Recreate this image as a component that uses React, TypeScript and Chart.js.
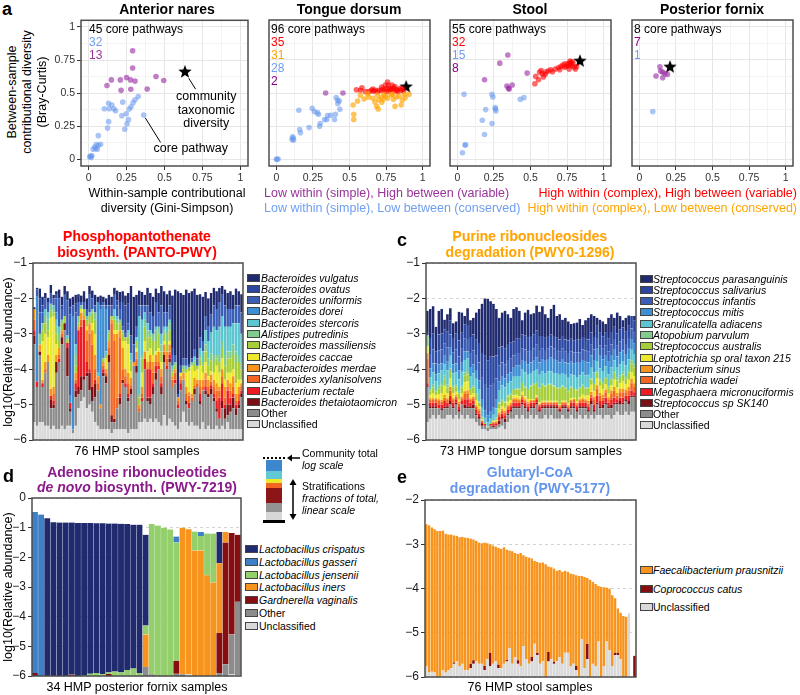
import React, { useEffect, useRef } from "react";
import { Chart, registerables } from "chart.js";
Chart.register(...registerables);

const FONT = "'Liberation Sans', Arial, Helvetica, sans-serif";

// ---------------- Panel a: scatter data [within (Gini-Simpson), between (Bray-Curtis)] ----------------
const scatterGrid = [0, 0.125, 0.25, 0.375, 0.5, 0.625, 0.75, 0.875, 1];
const scatterLabels: Record<string, string> = { "0": "0", "0.25": "0.25", "0.5": "0.5", "0.75": "0.75", "1": "1" };

const naresBlue = [[0.327,0.474],[0.306,0.45],[0.293,0.428],[0.28,0.397],[0.225,0.432],[0.132,0.423],[0.153,0.411],[0.166,0.382],[0.104,0.382],[0.136,0.382],[0.268,0.38],[0.248,0.345],[0.219,0.33],[0.363,0.335],[0.263,0.30],[0.132,0.285],[0.253,0.268],[0.238,0.228],[0.125,0.236],[0.064,0.179],[0.079,0.114],[0.051,0.112],[0.04,0.094],[0.03,0.077],[0.057,0.077],[0.013,0.025],[0.007,0.02],[0.021,0.027],[0.047,0.082],[0.064,0.104],[0.017,0.015],[0.178,0.367]];
const naresPurple = [[0.29,0.82],[0.29,0.69],[0.15,0.60],[0.209,0.60],[0.25,0.618],[0.276,0.60],[0.306,0.591],[0.444,0.626],[0.495,0.596],[0.121,0.558],[0.214,0.521],[0.278,0.529],[0.386,0.531]];
const naresStar = [0.635, 0.66];

const tongueBlue = [[0.005,0.0],[0.0,0.0],[0.012,0.003],[0.111,0.17],[0.118,0.145],[0.107,0.15],[0.16,0.225],[0.154,0.37],[0.224,0.24],[0.245,0.385],[0.281,0.352],[0.296,0.25],[0.288,0.34],[0.345,0.30],[0.372,0.332],[0.404,0.34],[0.398,0.30],[0.409,0.465],[0.42,0.445],[0.42,0.42],[0.434,0.378],[0.115,0.16],[0.30,0.27],[0.35,0.33],[0.26,0.36],[0.43,0.44],[0.165,0.20],[0.33,0.30]];
const tonguePurple = [[0.337,0.50],[0.455,0.50]];
const tongueOrange = [[0.525,0.41],[0.529,0.34],[0.529,0.30],[0.574,0.482],[0.623,0.495],[0.674,0.432],[0.685,0.40],[0.696,0.38],[0.719,0.47],[0.73,0.452],[0.748,0.475],[0.786,0.487],[0.80,0.452],[0.853,0.41],[0.791,0.49],[0.811,0.40],[0.84,0.475],[0.86,0.445],[0.876,0.49],[0.908,0.49],[0.70,0.45],[0.66,0.46],[0.72,0.43],[0.76,0.46],[0.63,0.47],[0.555,0.44],[0.69,0.485],[0.735,0.49],[0.82,0.47],[0.88,0.465],[0.60,0.455]];
const tongueRed = [[0.547,0.525],[0.585,0.54],[0.632,0.51],[0.649,0.52],[0.664,0.513],[0.692,0.508],[0.718,0.52],[0.76,0.583],[0.766,0.558],[0.753,0.533],[0.781,0.52],[0.802,0.533],[0.823,0.52],[0.77,0.533],[0.78,0.525],[0.80,0.54],[0.823,0.525],[0.843,0.533],[0.853,0.52],[0.70,0.52],[0.74,0.515],[0.61,0.51],[0.66,0.53],[0.72,0.545],[0.79,0.56],[0.81,0.548],[0.755,0.51],[0.83,0.51],[0.86,0.535],[0.87,0.515],[0.676,0.52],[0.73,0.53],[0.795,0.51],[0.745,0.56],[0.575,0.52]];
const tongueStar = [0.887, 0.546];

const stoolBlue = [[0.046,0.49],[0.237,0.49],[0.243,0.47],[0.194,0.375],[0.259,0.39],[0.263,0.365],[0.171,0.295],[0.237,0.27],[0.186,0.1875],[0.057,0.11],[0.052,0.108],[0.035,0.05],[0.43,0.452],[0.455,0.465],[0.26,0.38]];
const stoolPurple = [[0.345,0.786],[0.29,0.725],[0.186,0.60],[0.477,0.65],[0.339,0.553],[0.375,0.56],[0.354,0.53],[0.35,0.535]];
const stoolRed = [[0.53,0.57],[0.536,0.625],[0.562,0.658],[0.573,0.67],[0.588,0.62],[0.605,0.658],[0.637,0.675],[0.669,0.68],[0.707,0.70],[0.732,0.695],[0.754,0.72],[0.771,0.73],[0.78,0.705],[0.797,0.695],[0.807,0.68],[0.764,0.68],[0.60,0.64],[0.62,0.665],[0.65,0.66],[0.69,0.69],[0.72,0.71],[0.745,0.70],[0.775,0.72],[0.785,0.735],[0.79,0.72],[0.76,0.705],[0.555,0.60],[0.58,0.645],[0.70,0.675],[0.815,0.70],[0.735,0.72],[0.77,0.74]];
const stoolStar = [0.838, 0.74];

const fornixBlue = [[0.092,0.36]];
const fornixPurple = [[0.141,0.697],[0.146,0.665],[0.114,0.628],[0.16,0.658],[0.192,0.64],[0.16,0.615],[0.175,0.645]];
const fornixStar = [0.21, 0.695];

const C_BLUE = "rgba(100,149,237,0.55)";
const C_PURPLE = "rgba(150,40,160,0.6)";
const C_RED = "rgba(255,0,0,0.6)";
const C_ORANGE = "rgba(255,165,0,0.65)";

// ---------------- Panel b: PANTO-PWY, 76 HMP stool samples ----------------
const bTotal = [-2.25,-1.70,-1.72,-1.95,-1.85,-1.98,-1.62,-1.90,-1.80,-1.75, -1.95,-1.65,-1.80,-2.00,-1.95,-1.90,-1.88,-1.92,-1.80,-2.00, -1.65,-1.78,-1.90,-1.95,-1.92,-1.95,-2.00,-1.90,-1.95,-1.70, -1.78,-1.82,-1.80,-1.92,-1.85,-1.65,-1.95,-1.90,-1.78,-1.82, -1.90,-1.70,-1.85,-1.95,-1.72,-1.85,-1.65,-1.80,-1.88,-1.78, -1.92,-1.75,-1.80,-1.85,-1.90,-1.75,-1.85,-1.80,-1.72,-1.90, -1.88,-1.95,-1.82,-2.00,-1.85,-1.70,-1.80,-1.70,-1.65,-1.75, -1.85,-1.80,-1.90,-1.72,-1.80,-1.88];
const bUnclassified = [.5,.4,.5,.5,.4,.4,.3,.4,.3,.3, .4,.3,.4,.4,.2,.4,.9,1.1,1.2,.9, 1.0,.8,.5,.4,.3,.3,.3,.3,.2,.3, .3,.3,.3,.3,.2,.3,.3,.3,.5,.5, .6,.5,.6,.5,.6,.5,.4,.7,.4,.6, .5,.4,.3,.5,.8,.5,.4,.5,.4,.4, .3,.5,.3,.4,.3,.3,.4,.3,.4,.3, .5,.3,.3,.3,.3,.3];
const bOther = [2.2,1.1,1.9,1.0,1.5,1.8,.6,.5,1.6,1.9, 2.3,2.8,1.4,.4,.1,.8,.4,.3,.5,.9, .4,.3,.7,1.0,.6,1.5,1.3,1.9,.3,.2, .6,.7,1.3,1.2,.9,1.0,1.8,1.6,.3,.6, 1.4,.6,.4,.8,1.1,1.5,.9,1.5,1.6,1.6, 1.0,1.2,.6,.9,.9,.5,.5,.6,.9,1.1, .7,.9,1.0,.8,1.0,.8,.4,.3,.5,.3, .2,.5,.6,.4,.6,.9];
const bTheta = [.25,0,.1,0,0,0,.25,.1,.3,0, .2,.2,.8,.1,0,.2,.2,.4,.1,.1, .5,.4,.4,0,0,.1,.2,.2,.2,.1, 0,.2,.1,0,.1,.15,0,.2,0,0, 0,.1,.2,.2,.2,0,.2,.2,0,.1, 0,0,0,0,0,.1,0,0,.15,0, .1,0,.1,.1,.15,.1,.1,0,.2,.3, .3,.2,.3,.2,.1,.1];
const bRectale = [.15,.15,0,.1,0,0,.1,.1,0,.1, 0,0,.15,.15,0,.2,1.6,1.4,1.6,.3, .1,0,.1,0,0,.1,0,0,0,0, 0,.1,0,.1,.1,0,0,0,0,.1, .3,.8,.8,.1,.2,.1,.1,0,.1,.1, 0,.1,.1,.2,0,0,.15,0,0,0, .2,0,.1,0,.1,.1,.2,.6,.5,.1, .4,.2,.1,.1,.1,.1];
const bXylan = [.3,0,0,0,.1,0,0,.2,0,.1, .1,0,0,0,0,.1,0,.2,0,.6, 1.0,1.2,.3,.2,0,.1,.1,.2,2.6,2.2, .3,1.6,.3,.2,.3,.1,0,.2,.1,.1, 0,0,.2,.3,.1,.1,.2,.1,.2,.1, .2,.2,.1,.1,0,.2,.2,.1,.1,.1, .2,.1,.2,.2,.1,.2,.3,.2,.2,.2, .1,.2,.2,.1,.2,.1];
const bMerdae = [.3,0,.2,.1,.2,.2,.2,.2,.2,.2, .1,0,0,0,0,.2,.1,.2,.1,.3, .3,.4,.4,.2,.1,.1,.1,.2,.1,.2, 1.8,.2,.6,.2,.3,.2,.1,.2,.1,.2, .2,.2,.2,.3,.2,.3,.2,.2,.2,.2, .1,.1,.1,.1,.2,.2,.1,.1,.2,.1, .2,.2,.2,.2,.2,.2,.2,.1,.2,.3, .2,.2,.3,.2,.2,.1];
const bCaccae = [0,0,0,1.1,.8,.5,2.0,2.0,.3,0, 0,0,0,0,0,0,0,.1,0,.1, 0,.2,.6,0,0,0,.3,0,0,.1, .1,0,.2,.8,.8,.2,0,.1,0,.4, .3,.3,.2,.2,.1,.1,.2,.1,0,.1, 0,0,0,.1,0,.4,.6,.8,.2,.3, .4,.2,.3,.1,.1,.2,.5,.4,.3,.2, .2,.3,.2,.3,.2,.1];
const bMassil = [0,0,0,.3,.3,.2,.2,.1,.3,.2, .2,.2,.1,0,0,.2,.1,0,.2,.2, .2,.3,.4,0,0,.1,.1,.2,.1,.3, .2,.2,.2,.1,.2,.2,0,.2,.2,.4, .4,.4,.3,.4,.3,.4,.3,.2,.3,.3, .1,.1,0,0,.1,.1,.1,0,.2,.1, .2,.2,.3,.3,.3,.3,.2,.3,.3,.4, .4,.4,.4,.6,.5,.3];
const bPutred = [0,0,.3,.2,.2,.3,.2,.1,.2,.2, .1,0,0,0,0,.3,.2,.1,0,0, 0,.1,.2,0,0,0,0,.1,0,.1, .1,.1,.1,0,.1,.1,0,0,.1,.1, .2,.2,.1,.2,.3,.2,.2,.1,.2,.2, .1,.1,0,0,.1,0,0,.1,.1,0, .1,.1,.2,.2,.2,.2,.1,.2,.2,.3, .2,.2,.3,.3,.2,.2];
const bSterc = [0,0,0,0,.2,.2,0,.1,.2,.2, 0,0,.1,0,0,.3,0,0,0,.1, .1,0,0,.1,0,0,.1,0,0,.2, .1,0,0,0,.1,.2,0,.1,2.2,1.0, .2,.2,.1,0,.1,0,.3,.1,.2,.1, .1,0,0,0,0,.1,0,0,.1,0, .2,.3,.4,.5,.6,.8,.7,.8,.7,.8, .7,.7,.6,.8,.9,.8];
const bDorei = [0,2.4,0,0,0,0,0,0,.2,0, 0,0,0,.2,3.2,0,0,0,0,0, 0,0,0,2.0,2.7,1.5,1.2,0,0,0, 0,0,0,0,0,0,0,0,0,0, 0,0,0,0,0,0,0,0,0,0, 0,0,0,0,0,0,0,0,0,0, 0,0,0,0,0,0,0,0,0,0, 0,0,0,0,0,0];
const bUniform = [0,.2,.6,.3,.3,.3,.3,.2,.4,.8, .3,.6,1.0,2.3,.3,.9,.4,.1,.2,.2, .5,.3,.2,0,.1,.1,.1,.7,.3,.4, .3,.3,.1,.1,.2,.5,.5,.3,.3,.4, .2,.5,.5,.5,.7,.4,.8,.4,.4,.4, .3,.2,.1,.2,.2,.2,.1,.1,.2,.2, .3,.3,.4,.4,.5,.6,.6,.7,.6,.6, .5,.5,.4,.5,.5,.6];
const bOvatus = [0,0,.4,.2,0,0,0,0,.1,0, .1,0,0,.2,0,.25,0,0,0,0, 0,0,0,0,0,0,0,0,0,0, .15,.2,.7,.8,.55,0,0,0,0,0, 0,0,0,0,0,0,0,0,0,0, .2,0,0,0,0,0,0,0,0,0, 0,0,0,0,0,0,0,0,0,0, 0,0,0,0,0,0];
// B. vulgatus = remainder up to community total
const bLegend = ["Bacteroides vulgatus","Bacteroides ovatus","Bacteroides uniformis","Bacteroides dorei","Bacteroides stercoris","Alistipes putredinis","Bacteroides massiliensis","Bacteroides caccae","Parabacteroides merdae","Bacteroides xylanisolvens","Eubacterium rectale","Bacteroides thetaiotaomicron","Other","Unclassified"];

// stack colours, bottom -> top
const STRAT_COLORS = ["#d9d9d9","#8c8c8c","#7b1116","#ed1c24","#f26522","#f7941d","#eee82c","#a6ce39","#80cc8e","#5cc6d0","#3e8ed3","#3a5db5","#2b47a0","#202a6e"];

// ---------------- Panel c: PWY0-1296, 73 HMP tongue dorsum samples ----------------
const cTotal = [-2.35,-2.30,-2.22,-2.80,-2.35,-2.30,-2.60,-2.45,-2.28,-2.70, -2.65,-2.38,-2.40,-2.50,-2.28,-2.62,-2.55,-2.40,-2.30,-2.15, -2.00,-2.02,-2.08,-2.15,-2.30,-2.55,-2.40,-2.35,-2.45,-2.55, -2.30,-2.25,-2.35,-2.62,-2.40,-2.32,-2.45,-2.42,-2.20,-2.38, -2.22,-2.45,-2.55,-2.30,-2.18,-2.50,-2.45,-2.60,-2.55,-2.65, -2.72,-2.70,-2.68,-2.58,-2.75,-2.62,-2.55,-2.45,-2.50,-2.55, -2.60,-2.65,-2.72,-2.55,-2.45,-2.55,-2.40,-2.50,-2.62,-2.55, -2.48,-2.55,-2.50];
const cUnclassified = [.5,.6,.7,.6,.7,.6,.6,.7,.7,.6, .7,.6,.7,.6,.7,.6,.6,.5,.4,.3, .3,.25,.3,.3,.3,.35,.4,.3,.5,.6, .6,.7,.6,.7,.6,.6,.7,.6,.7,.6, .6,.7,.6,.7,.6,.6,.6,.7,.6,.6, .7,.6,.6,.7,.6,.7,.6,.7,.6,.7, .7,.6,.7,.7,.6,.7,.8,.7,.7,.8, .7,.8,.8];
const cOther = [1.0,.3,.2,.3,.2,.25,.3,.2,.3,.3, .3,.2,.3,.3,.2,.3,.3,.2,.2,.1, .1,.1,.1,.05,.1,.1,.2,.2,.2,.2, .3,.2,.3,.3,.3,.2,.2,.3,.3,.2, .3,.2,.3,.2,.3,.3,.2,.2,.3,.2, .2,.3,.2,.2,.3,.2,.2,.3,.2,.3, .2,.3,.3,.2,.3,.3,.2,.3,.3,.3, .3,.4,.4];
const cSK140 = [0,.05,.05,.05,0,.05,.05,.05,.1,.05, .05,.05,0,.1,.05,.05,.1,.05,.05,.05, 0,0,0,.05,0,.1,.05,.1,.05,.05, .05,.05,.05,.05,.05,.05,.05,.05,.05,.05, .05,.05,.05,.05,.05,.05,.05,.05,.05,.05, .05,.05,.05,.05,.05,.05,.05,.1,.05,.05, .05,.1,.05,.05,.1,.05,.05,.1,.05,.05, .1,.05,.05];
const cMegasph = [.1,.1,.1,.1,.1,.1,.15,.1,.15,.1, .1,.1,.1,.15,.2,.1,.1,.1,.1,.05, .05,0,.05,.05,.05,.1,.1,.1,.1,.1, .1,.1,.1,.1,.1,.1,.1,.1,.1,.1, .05,.05,.05,.05,.05,.05,.05,.05,.05,.05, .1,.1,.1,.1,.1,.1,.1,.1,.15,.2, .15,.1,.15,.1,.15,.15,.1,.1,.15,.1, .15,.15,.1];
const cWadei = [.7,.08,.08,.08,.1,.08,.1,.08,.15,.08, .08,.08,.08,.15,.15,.08,.08,.08,.08,.05, 0,0,0,.05,.05,.08,.08,.08,.08,.05, .08,.08,.05,.08,.05,.08,.05,.05,.05,.05, .05,.05,.05,.05,.05,.05,.05,.05,.05,.05, .05,.08,.05,.05,.08,.05,.08,.08,.15,.2, .15,.1,.15,.08,.15,.2,.1,.15,.15,.1, .15,.2,.15];
const cOribact = [.15,.05,.05,.05,.05,.05,.08,.05,.1,.05, .05,.05,.05,.08,.1,.05,.05,.05,.05,0, 0,0,0,0,.03,.05,.05,.05,.05,.05, .05,.05,.05,.05,.05,.05,.03,.03,.03,.03, .03,.03,.03,.03,.03,.03,.03,.03,.03,.03, .03,.03,.05,.05,.05,.05,.08,.08,.08,.1, .08,.08,.08,.08,.1,.1,.08,.1,.1,.08, .1,.12,.1];
const cLept215 = [.2,.1,.15,.08,.15,.2,.25,.15,.25,.15, .08,.08,.1,.25,.25,.08,.1,.15,.08,.03, 0,0,0,.03,.03,.1,.08,.08,.1,.08, .08,.1,.08,.08,.08,.08,.03,.03,.03,.03, .03,.03,.03,.03,.03,.03,.03,.03,.03,.05, .05,.03,.05,.05,.1,.1,.15,.2,.15,.2, .2,.15,.15,.1,.15,.2,.15,.15,.2,.15, .2,.2,.2];
const cAustralis = [0,.1,.15,.1,.15,.2,.2,.15,.2,.15, .15,.15,.15,.2,.2,.15,.15,.15,.1,.05, .03,.03,.03,.03,.05,.15,.15,.15,.15,.15, .15,.15,.2,.25,.25,.25,.35,.4,.35,.4, .45,.4,.45,.45,.4,.35,.45,.4,.35,.35, .3,.25,.3,.25,.25,.2,.2,.15,.2,.15, .15,.15,.15,.15,.15,.2,.2,.15,.2,.15, .2,.25,.25];
const cAtopob = [.3,.05,.08,.05,.08,.08,.1,.08,.08,.05, .05,.05,.05,.08,.1,.05,.05,.05,.03,.03, 0,0,0,0,.03,.03,.03,.03,.03,.03, .03,.03,.03,.03,.03,.03,.03,.03,.03,.03, .03,.03,.03,.03,.03,.03,.03,.03,.03,.03, .03,.03,.03,.03,.03,.03,.03,.03,.03,.03, .05,.05,.05,.05,.05,.05,.08,.08,.08,.08, .08,.08,.08];
const cGranul = [0,.35,.35,.25,.35,.35,.3,.4,.35,.35, .35,.35,.4,.35,.35,.35,.35,.4,.35,.25, .15,.12,.12,.15,.25,.35,.4,.4,.35,.35, .35,.35,.35,.35,.4,.4,.35,.35,.35,.35, .35,.35,.35,.35,.35,.4,.35,.35,.35,.35, .35,.35,.35,.35,.35,.35,.35,.3,.3,.3, .3,.3,.3,.35,.3,.3,.3,.3,.3,.3, .3,.3,.3];
const cMitis = [0,.25,.25,.2,.25,.2,.25,.25,.25,.25, .25,.25,.25,.25,.2,.25,.25,.25,.25,.25, .2,.2,.2,.2,.25,.25,.25,.25,.25,.25, .25,.3,.3,.25,.3,.3,.3,.3,.35,.35, .35,.35,.35,.4,.4,.35,.35,.4,.35,.4, .35,.35,.4,.35,.35,.4,.35,.35,.35,.35, .35,.35,.3,.35,.35,.3,.3,.35,.3,.3, .3,.3,.3];
const cInfantis = [0,.4,.4,.3,.4,.4,.35,.4,.35,.35, .4,.4,.4,.35,.35,.4,.4,.4,.5,.6, .75,.75,.75,.7,.6,.45,.4,.4,.4,.4, .35,.35,.35,.35,.35,.35,.35,.35,.35,.35, .3,.3,.3,.3,.3,.3,.3,.3,.3,.3, .3,.3,.3,.3,.3,.3,.3,.3,.3,.3, .3,.3,.3,.3,.3,.3,.3,.3,.3,.3, .3,.3,.3];
const cSalivar = [.1,.45,.45,.35,.45,.45,.4,.45,.4,.4, .45,.45,.45,.4,.4,.45,.45,.45,.55,.7, .8,.8,.8,.75,.65,.5,.45,.45,.45,.45, .4,.4,.4,.4,.4,.4,.4,.4,.4,.4, .35,.35,.35,.35,.35,.35,.35,.35,.35,.35, .35,.35,.35,.35,.35,.35,.35,.35,.35,.35, .35,.35,.35,.35,.35,.35,.35,.35,.35,.35, .35,.35,.35];
// S. parasanguinis = remainder up to community total
const cLegend = ["Streptococcus parasanguinis","Streptococcus salivarius","Streptococcus infantis","Streptococcus mitis","Granulicatella adiacens","Atopobium parvulum","Streptococcus australis","Leptotrichia sp oral taxon 215","Oribacterium sinus","Leptotrichia wadei","Megasphaera micronuciformis","Streptococcus sp SK140","Other","Unclassified"];

// ---------------- Panel d: PWY-7219, 34 HMP posterior fornix samples ----------------
const dUnclassified = [0,0,0,0,0,0,0,0,0,0, 0,0,0,0,0,0,0,0,0,0, 0,0,0,0,0,.05,0,0,0,0, 0,0,.05,.03];
const dOther = [0,0,0,0,0,0,0,0,.03,0, 0,0,0,0,0,0,0,0,.3,.06, 0,0,0,.08,.06,0,0,0,0,0, .1,.4,1.35,2.47];
const dGardnerella = [.1,0,0,0,0,0,.05,0,0,0, 0,0,.07,0,0,0,0,0,0,0, 0,0,0,.43,0,0,0,0,0,0, 1.35,4.1,3.42,2.26];
const dIners = [0,0,0,0,0,0,0,0,0,0, 0,0,0,0,0,0,0,0,1.1,0, 0,0,0,0,4.94,4.9,4.23,4.23,3.4,3.15, 2.35,.35,0,0];
const dJensenii = [0,0,0,0,0,0,0,0,0,.08, .1,.06,.05,.15,.12,.2,.25,.1,.3,5.06, 5.07,5.0,4.94,3.99,0,0,.64,.49,1.4,1.65, 0,0,0,0];
const dGasseri = [5.43,5.44,0,0,0,0,0,0,0,0, 0,0,0,0,0,0,0,0,0,0, 0,0,0,.2,0,0,0,.13,0,0, 0,0,0,0];
const dCrispatus = [0,0,5.32,5.18,5.17,5.17,5.12,5.16,5.13,5.08, 5.05,5.09,5.02,4.99,5.01,4.92,4.85,5.0,3.06,0, 0,0,0,0,0,0,0,0,0,0, 1.05,0,0,0];
const dLegend = ["Lactobacillus crispatus","Lactobacillus gasseri","Lactobacillus jensenii","Lactobacillus iners","Gardnerella vaginalis","Other","Unclassified"];
const D_COLORS = ["#d9d9d9","#8c8c8c","#860d10","#f7941d","#93cf6b","#3f7fc8","#202a6e"];

// ---------------- Panel e: PWY-5177, 76 HMP stool samples ----------------
const eTotal: (number | null)[] = [-2.55,-2.57,-2.62,-2.66,-2.70,-2.70,-2.69,-2.76,-2.78,-2.78, -2.80,-2.81,-2.84,-2.83,-2.85,-2.86,-2.87,-2.89,-2.92,-2.96, -2.98,-2.96,-2.98,-3.00,-3.03,-3.05,-3.08,-3.10,-3.07,-3.12, -3.14,-3.16,-3.20,-3.22,-3.20,-3.25,-3.28,-3.30,-3.32,-3.38, -3.40,-3.42,-3.41,-3.45,-3.50,-3.52,-3.55,-3.60,-3.58,-3.62, -3.60,-3.62,-3.66,-3.68,-3.70,-3.72,-3.72,-3.74,-3.76,-3.80, -3.85,-3.90,-3.94,-3.96,-3.97,-3.98,-4.00,-4.15,-4.22,-4.45, -4.55,-4.62,-4.64,-4.56,null,-5.52];
const eUnclassified = [.25,.1,.12,.1,0,0,.15,.1,.15,.2, .3,.35,.25,.3,.15,.15,.2,.3,.35,.3, .3,.15,.4,.25,.3,.35,.2,.2,.3,.35, .65,.3,.45,.3,.25,.7,.4,.3,.35,.75, .5,.3,.35,0,.35,.4,.3,.35,.45,.3, .55,.55,.25,.3,.15,0,.85,.2,.4,0, .3,.25,.8,0,.25,.8,.6,.25,.5,.5, .4,0,0,1.44,0,0];
const eCatus = [0,0,0,0,0,0,0,0,0,0, .03,0,0,0,0,0,.1,.08,0,0, 0,.1,0,.3,0,0,.08,0,0,.04, 0,0,0,.08,0,0,0,0,.1,0, .04,0,0,0,.22,0,.05,0,0,0, 0,0,0,0,.1,0,0,0,.35,0, 0,0,0,0,0,0,0,0,.05,.05, 0,0,0,0,0,.48];
// F. prausnitzii = remainder up to community total
const eLegend = ["Faecalibacterium prausnitzii","Coprococcus catus","Unclassified"];
const E_COLORS = ["#d9d9d9","#860d10","#f7941d"];

// ---------------- helpers ----------------
type Seg = [number, number] | null;
function floatLayers(totals: (number | null)[] | null, layers: number[][], floor: number): Seg[][] {
  const n = layers[0].length;
  const out: Seg[][] = layers.map(() => []);
  if (totals) out.push([]);
  for (let i = 0; i < n; i++) {
    const t = totals ? totals[i] : 0;
    if (totals && t === null) { out.forEach((o) => o.push(null)); continue; }
    let base = floor;
    layers.forEach((arr, k) => {
      const h = arr[i];
      out[k].push(h > 0 ? [base, base + h] : null);
      base += h;
    });
    if (totals) out[layers.length].push((t as number) > base ? [base, t as number] : null);
  }
  return out;
}

const boxPlugin = {
  id: "panelBox",
  afterDraw(chart: any) {
    const { ctx, chartArea: a } = chart;
    ctx.save();
    ctx.strokeStyle = "#4d4d4d";
    ctx.lineWidth = 1.5;
    ctx.strokeRect(a.left, a.top, a.right - a.left, a.bottom - a.top);
    ctx.restore();
  },
};

function makeStar(r: number) {
  const s = Math.ceil(r * 2 + 2);
  const c = document.createElement("canvas");
  c.width = s; c.height = s;
  const g = c.getContext("2d")!;
  g.beginPath();
  for (let k = 0; k < 10; k++) {
    const ang = -Math.PI / 2 + (k * Math.PI) / 5;
    const rr = k % 2 === 0 ? r : r * 0.42;
    g.lineTo(s / 2 + rr * Math.cos(ang), s / 2 + rr * Math.sin(ang));
  }
  g.closePath();
  g.fillStyle = "#000";
  g.fill();
  return c;
}

const naresNotes = {
  id: "naresNotes",
  afterDatasetsDraw(chart: any) {
    const { ctx, scales } = chart;
    const px = (v: number) => scales.x.getPixelForValue(v);
    const py = (v: number) => scales.y.getPixelForValue(v);
    ctx.save();
    ctx.strokeStyle = "#000";
    ctx.lineWidth = 1;
    ctx.beginPath();
    ctx.moveTo(px(0.66), py(0.612)); ctx.lineTo(px(0.705), py(0.53));
    ctx.moveTo(px(0.373), py(0.314)); ctx.lineTo(px(0.474), py(0.128));
    ctx.stroke();
    ctx.fillStyle = "#000";
    ctx.font = `12.5px ${FONT}`;
    ctx.textAlign = "center";
    ctx.textBaseline = "middle";
    ctx.fillText("community", px(0.775), py(0.478));
    ctx.fillText("taxonomic", px(0.775), py(0.372));
    ctx.fillText("diversity", px(0.775), py(0.268));
    ctx.fillText("core pathway", px(0.673), py(0.078));
    ctx.restore();
  },
};

function scatterConfig(series: { pts: number[][]; color: string }[], star: number[], showY: boolean, extra: any[]) {
  const isMajor = (v: number) => Math.abs(v * 4 - Math.round(v * 4)) < 1e-6;
  const axis = (show: boolean, horizontal: boolean) => ({
    type: "linear",
    min: -0.05,
    max: 1.05,
    afterBuildTicks: (s: any) => { s.ticks = scatterGrid.map((v) => ({ value: v })); },
    afterFit: (s: any) => { if (horizontal) s.height = 22; else s.width = show ? 40 : 0; },
    ticks: {
      display: show,
      autoSkip: false,
      maxRotation: 0,
      padding: 2,
      color: "#333",
      font: { family: FONT, size: 10.5 },
      callback: (v: number) => (isMajor(v) ? scatterLabels[String(v)] ?? "" : ""),
    },
    grid: {
      drawTicks: show,
      tickLength: 4,
      color: (c: any) => (isMajor(c.tick?.value ?? 0) ? "#e6e6e6" : "#f3f3f3"),
      tickColor: (c: any) => (isMajor(c.tick?.value ?? 0) ? "#333" : "rgba(0,0,0,0)"),
      lineWidth: 1,
    },
    border: { display: false },
  });
  return {
    type: "scatter",
    data: {
      datasets: [
        ...series.map((s) => ({
          data: s.pts.map(([x, y]) => ({ x, y })),
          backgroundColor: s.color,
          borderWidth: 0,
          pointRadius: 2.8,
          pointHoverRadius: 2.8,
        })),
        { data: [{ x: star[0], y: star[1] }], pointStyle: makeStar(7), pointRadius: 7 },
      ],
    },
    options: {
      animation: false,
      responsive: false,
      events: [],
      layout: { padding: { left: showY ? 0 : 2, top: 6, right: 3, bottom: 0 } },
      plugins: { legend: { display: false }, tooltip: { enabled: false } },
      scales: { x: axis(true, true), y: axis(showY, false) },
    },
    plugins: [boxPlugin, ...extra],
  };
}

function barConfig(segs: Seg[][], colors: string[], yMin: number, yMax: number) {
  const n = segs[0].length;
  const tickVals: number[] = [];
  for (let v = yMin; v <= yMax; v++) tickVals.push(v);
  return {
    type: "bar",
    data: {
      labels: Array.from({ length: n }, (_, i) => `S${i + 1}`),
      datasets: segs.map((d, k) => ({
        data: d,
        backgroundColor: colors[k],
        borderColor: "rgba(255,255,255,0.12)",
        borderWidth: { left: 0, top: 0, bottom: 0, right: 0.6 },
        borderSkipped: false,
        barPercentage: 1,
        categoryPercentage: 1,
        grouped: false,
      })),
    },
    options: {
      animation: false,
      responsive: false,
      events: [],
      layout: { padding: { left: 0, top: 10, right: 4, bottom: 10 } },
      plugins: { legend: { display: false }, tooltip: { enabled: false } },
      scales: {
        x: { type: "category", display: false, offset: true },
        y: {
          type: "linear",
          min: yMin,
          max: yMax,
          afterBuildTicks: (s: any) => { s.ticks = tickVals.map((v) => ({ value: v })); },
          afterFit: (s: any) => { s.width = 33; },
          ticks: {
            padding: 2,
            color: "#1a1a1a",
            font: { family: FONT, size: 12 },
            callback: (v: number) => (v < 0 ? "\u2212" + Math.abs(v) : String(v)),
          },
          grid: { color: "#c8c8c8", lineWidth: 0.8, tickColor: "#333", tickLength: 4, tickWidth: 1 },
          border: { display: false, dash: [3, 3] },
        },
      },
    },
    plugins: [boxPlugin],
  };
}

function ChartCanvas({ left, top, width, height, make }: { left: number; top: number; width: number; height: number; make: () => any }) {
  const ref = useRef<HTMLCanvasElement | null>(null);
  useEffect(() => {
    const chart = new Chart(ref.current as HTMLCanvasElement, make());
    return () => chart.destroy();
  }, []);
  return <canvas ref={ref} width={width} height={height} style={{ position: "absolute", left, top, width, height }} />;
}

type TP = { x: number; y: number; size?: number; bold?: boolean; italic?: boolean; color?: string; align?: "left" | "center" | "right"; rotate?: boolean; children: React.ReactNode };
function T({ x, y, size = 12, bold, italic, color = "#000", align = "left", rotate, children }: TP) {
  const base: React.CSSProperties = {
    position: "absolute", whiteSpace: "nowrap", fontFamily: FONT, fontSize: size, lineHeight: `${size + 2}px`,
    fontWeight: bold ? 700 : 400, fontStyle: italic ? "italic" : "normal", color, left: x, top: y,
  };
  if (rotate) return <div style={{ ...base, transform: "translate(-50%,-50%) rotate(-90deg)" }}>{children}</div>;
  const tx = align === "center" ? "-50%" : align === "right" ? "-100%" : "0";
  return <div style={{ ...base, transform: `translate(${tx},-50%)` }}>{children}</div>;
}

function Legend({ x, tx, y0, dy, labels, colors }: { x: number; tx: number; y0: number; dy: number; labels: string[]; colors: string[] }) {
  return (
    <>
      {labels.map((label, i) => {
        const plain = label === "Other" || label === "Unclassified";
        return (
          <React.Fragment key={label}>
            <div style={{ position: "absolute", left: x, top: y0 + i * dy - 4, width: 11, height: 6, background: colors[i], border: "1px solid #444" }} />
            <T x={tx} y={y0 + i * dy} size={10.5} italic={!plain}>{label}</T>
          </React.Fragment>
        );
      })}
    </>
  );
}

// scatter panel boxes (plot area left edges); all share top 18, size 172 x 148
const SC_TOP = 18;
function scatterCanvas(boxLeft: number, showY: boolean, series: { pts: number[][]; color: string }[], star: number[], extra: any[]) {
  const yW = showY ? 40 : 0;
  const padL = showY ? 0 : 2;
  return (
    <ChartCanvas
      left={boxLeft - yW - padL}
      top={SC_TOP - 6}
      width={padL + yW + 172 + 3}
      height={6 + 148 + 22}
      make={() => scatterConfig(series, star, showY, extra)}
    />
  );
}

function barCanvas(l: number, t: number, r: number, b: number, make: () => any) {
  return <ChartCanvas left={l - 33} top={t - 10} width={33 + (r - l) + 4} height={10 + (b - t) + 10} make={make} />;
}

const rev = (a: string[]) => a.slice().reverse();

export default function App() {
  return (
    <div style={{ position: "absolute", left: 0, top: 0, width: 800, height: 695, background: "#fff", overflow: "hidden", fontFamily: FONT }}>
      {scatterCanvas(81, true, [{ pts: naresBlue, color: C_BLUE }, { pts: naresPurple, color: C_PURPLE }], naresStar, [naresNotes])}
      {scatterCanvas(263, false, [{ pts: tongueBlue, color: C_BLUE }, { pts: tonguePurple, color: C_PURPLE }, { pts: tongueOrange, color: C_ORANGE }, { pts: tongueRed, color: C_RED }], tongueStar, [])}
      {scatterCanvas(444, false, [{ pts: stoolBlue, color: C_BLUE }, { pts: stoolPurple, color: C_PURPLE }, { pts: stoolRed, color: C_RED }], stoolStar, [])}
      {scatterCanvas(626, false, [{ pts: fornixBlue, color: C_BLUE }, { pts: fornixPurple, color: C_PURPLE }], fornixStar, [])}

      {barCanvas(33, 263, 243, 440, () =>
        barConfig(floatLayers(bTotal, [bUnclassified, bOther, bTheta, bRectale, bXylan, bMerdae, bCaccae, bMassil, bPutred, bSterc, bDorei, bUniform, bOvatus], -6), STRAT_COLORS, -6, -1))}
      {barCanvas(426, 263, 636, 440, () =>
        barConfig(floatLayers(cTotal, [cUnclassified, cOther, cSK140, cMegasph, cWadei, cOribact, cLept215, cAustralis, cAtopob, cGranul, cMitis, cInfantis, cSalivar], -6), STRAT_COLORS, -6, -1))}
      {barCanvas(32, 498, 241, 676, () =>
        barConfig(floatLayers(null, [dUnclassified, dOther, dGardnerella, dIners, dJensenii, dGasseri, dCrispatus], -6), D_COLORS, -6, 0))}
      {barCanvas(425, 500, 636, 677, () =>
        barConfig(floatLayers(eTotal, [eUnclassified, eCatus], -6), E_COLORS, -6, -2))}

      {/* panel a texts */}
      <T x={2} y={9} size={18} bold>a</T>
      <T x={167} y={9} size={14} bold align="center">Anterior nares</T>
      <T x={349} y={9} size={14} bold align="center">Tongue dorsum</T>
      <T x={530} y={9} size={14} bold align="center">Stool</T>
      <T x={712} y={9} size={14} bold align="center">Posterior fornix</T>

      <T x={89} y={29}>45 core pathways</T>
      <T x={89} y={42} color="#6f9ef0">32</T>
      <T x={89} y={55} color="#993399">13</T>
      <T x={271} y={29}>96 core pathways</T>
      <T x={271} y={42} color="#ff0000">35</T>
      <T x={271} y={55} color="#ffa500">31</T>
      <T x={271} y={68} color="#6f9ef0">28</T>
      <T x={271} y={81} color="#880088">2</T>
      <T x={452} y={29}>55 core pathways</T>
      <T x={452} y={42} color="#ff0000">32</T>
      <T x={452} y={55} color="#6f9ef0">15</T>
      <T x={452} y={68} color="#880088">8</T>
      <T x={634} y={29}>8 core pathways</T>
      <T x={634} y={42} color="#880088">7</T>
      <T x={634} y={55} color="#6f9ef0">1</T>

      <T x={12} y={92} size={12.5} rotate>Between-sample</T>
      <T x={27} y={92} size={12.5} rotate>contributional diversity</T>
      <T x={42} y={92} size={12.5} rotate>(Bray-Curtis)</T>
      <T x={167} y={193} size={12.5} align="center">Within-sample contributional</T>
      <T x={167} y={208} size={12.5} align="center">diversity (Gini-Simpson)</T>

      <T x={264} y={193} size={12.5} color="#993399">Low within (simple), High between (variable)</T>
      <T x={264} y={208} size={12.5} color="#6f9ef0">Low within (simple), Low between (conserved)</T>
      <T x={797} y={193} size={12.5} color="#ff0000" align="right">High within (complex), High between (variable)</T>
      <T x={797} y={208} size={12.5} color="#ffa500" align="right">High within (complex), Low between (conserved)</T>

      {/* panel b */}
      <T x={3} y={240} size={18} bold>b</T>
      <T x={137} y={236} size={14} bold color="#ff0000" align="center">Phosphopantothenate</T>
      <T x={137} y={252} size={14} bold color="#ff0000" align="center">biosynth. (PANTO-PWY)</T>
      <T x={8} y={352} size={12.5} rotate>log10(Relative abundance)</T>
      <T x={137} y={451} size={12.5} align="center">76 HMP stool samples</T>
      <Legend x={247} tx={261} y0={277.5} dy={11.3} labels={bLegend} colors={rev(STRAT_COLORS)} />

      {/* panel c */}
      <T x={397} y={240} size={18} bold>c</T>
      <T x={530} y={236} size={14} bold color="#ffa500" align="center">Purine ribonucleosides</T>
      <T x={530} y={252} size={14} bold color="#ffa500" align="center">degradation (PWY0-1296)</T>
      <T x={531} y={451} size={12.5} align="center">73 HMP tongue dorsum samples</T>
      <Legend x={640} tx={653} y0={278.5} dy={11.3} labels={cLegend} colors={rev(STRAT_COLORS)} />

      {/* schematic key */}
      <div style={{ position: "absolute", left: 263, top: 457, width: 22, borderTop: "2px dotted #000" }} />
      {[[460, 471, "#3d87cf"], [471, 479, "#62c8d3"], [479, 483, "#ece82a"], [483, 488, "#f26522"], [488, 503, "#8b1517"], [503, 512, "#939393"], [512, 520, "#d7d7d7"]].map(([a, b, c]) => (
        <div key={String(a)} style={{ position: "absolute", left: 266, top: a as number, width: 16, height: (b as number) - (a as number), background: c as string }} />
      ))}
      <div style={{ position: "absolute", left: 263, top: 520, width: 22, height: 2.5, background: "#000" }} />
      <svg style={{ position: "absolute", left: 287, top: 453 }} width={14} height={10}>
        <line x1={13} y1={5} x2={4} y2={5} stroke="#000" strokeWidth={1.5} />
        <polygon points="0,5 5,1.5 5,8.5" fill="#000" />
      </svg>
      <svg style={{ position: "absolute", left: 288, top: 479 }} width={10} height={41}>
        <line x1={5} y1={4} x2={5} y2={37} stroke="#000" strokeWidth={1.5} />
        <polygon points="5,0 1.5,6 8.5,6" fill="#000" />
        <polygon points="5,41 1.5,35 8.5,35" fill="#000" />
      </svg>
      <T x={302} y={453} size={10.5}>Community total</T>
      <T x={302} y={465} size={10.5} italic>log scale</T>
      <T x={302} y={486} size={10.5}>Stratifications</T>
      <T x={302} y={498} size={10.5} italic>fractions of total,</T>
      <T x={302} y={510} size={10.5} italic>linear scale</T>

      {/* panel d */}
      <T x={3} y={476} size={18} bold>d</T>
      <T x={137} y={472} size={14} bold color="#8b1a8b" align="center">Adenosine ribonucleotides</T>
      <T x={137} y={487} size={14} bold color="#8b1a8b" align="center"><i>de novo</i> biosynth. (PWY-7219)</T>
      <T x={8} y={587} size={12.5} rotate>log10(Relative abundance)</T>
      <T x={137} y={687} size={12.5} align="center">34 HMP posterior fornix samples</T>
      <Legend x={245} tx={259} y0={549} dy={12.8} labels={dLegend} colors={rev(D_COLORS)} />

      {/* panel e */}
      <T x={397} y={477} size={18} bold>e</T>
      <T x={530} y={472} size={14} bold color="#6495ed" align="center">Glutaryl-CoA</T>
      <T x={530} y={488} size={14} bold color="#6495ed" align="center">degradation (PWY-5177)</T>
      <T x={530} y={687} size={12.5} align="center">76 HMP stool samples</T>
      <Legend x={640} tx={653} y0={570} dy={18.5} labels={eLegend} colors={rev(E_COLORS)} />
    </div>
  );
}
